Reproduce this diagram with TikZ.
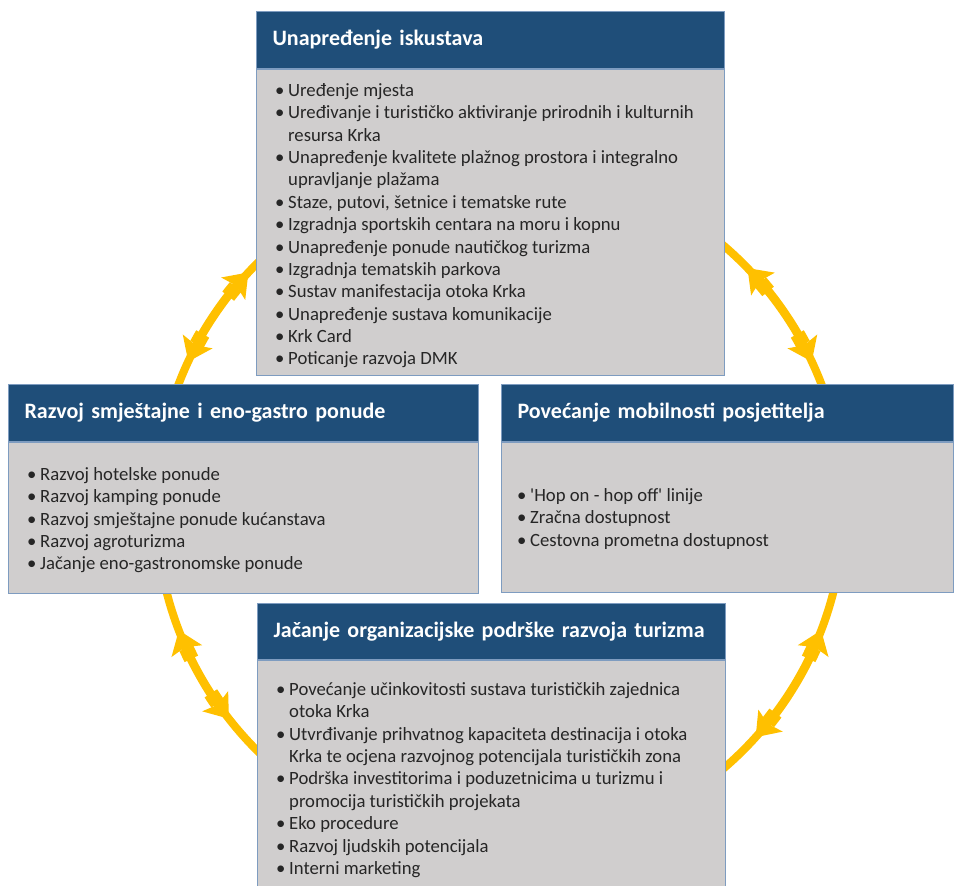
\documentclass[tikz,border=0pt]{standalone}
\usepackage{fontspec}
\setmainfont{Carlito}
\usetikzlibrary{arrows.meta,positioning,calc}

\definecolor{headblue}{HTML}{1F4E79}
\definecolor{bodygray}{HTML}{D0CECE}
\definecolor{edgeblue}{HTML}{7E9CC0}
\definecolor{ringgold}{HTML}{FFC000}

\newcommand{\listfont}{\fontsize{18.7}{22.4}\selectfont}
\newcommand{\headfont}{\fontsize{22}{26}\selectfont\bfseries}

\begin{document}
\begin{tikzpicture}[x=1pt,y=-1pt,
    headbox/.style={draw=edgeblue, line width=1.2pt, fill=headblue, text=white,
        font=\headfont, anchor=north west, inner xsep=16pt, inner ysep=0pt,
        align=left, minimum height=57pt},
    bodybox/.style={draw=edgeblue, line width=1.2pt, fill=bodygray, anchor=north west},
    itemlist/.style={anchor=base west, inner sep=0pt, font=\listfont, text=black!85},
    ring/.style={draw=ringgold, line width=8pt},
    ringcollar/.style={draw=ringgold, line width=15pt},
    ringarrow/.style={ring, {Stealth[length=22pt,width=32pt,inset=4pt]}-{Stealth[length=22pt,width=32pt,inset=4pt]}}]
    \useasboundingbox (0,0) rectangle (954,886);
    \coordinate (ring) at (500,507);
    \draw[ring] (ring) circle[radius=344pt];

    % top
    \node[headbox, text width=436pt] (topH) at (256,11) {Unapređenje iskustava};
    \node[bodybox, minimum width=468pt, minimum height=306pt] (topB) at (topH.south west) {};
    \node[itemlist] (topL) at ($(topB.north west)+(19,27)$) {%
        \begin{tabular}[t]{@{}p{13pt}@{}l@{}}
        \textbullet & Uređenje mjesta\\
        \textbullet & Uređivanje i turističko aktiviranje prirodnih i kulturnih\\
                    & resursa Krka\\
        \textbullet & Unapređenje kvalitete plažnog prostora i integralno\\
                    & upravljanje plažama\\
        \textbullet & Staze, putovi, šetnice i tematske rute\\
        \textbullet & Izgradnja sportskih centara na moru i kopnu\\
        \textbullet & Unapređenje ponude nautičkog turizma\\
        \textbullet & Izgradnja tematskih parkova\\
        \textbullet & Sustav manifestacija otoka Krka\\
        \textbullet & Unapređenje sustava komunikacije\\
        \textbullet & Krk Card\\
        \textbullet & Poticanje razvoja DMK
        \end{tabular}};

    % left
    \node[headbox, text width=438pt] (leftH) at (8,384) {Razvoj smještajne i eno-gastro ponude};
    \node[bodybox, minimum width=470pt, minimum height=151pt] (leftB) at (leftH.south west) {};
    \node[itemlist] (leftL) at ($(leftB.north west)+(19,38)$) {%
        \begin{tabular}[t]{@{}p{13pt}@{}l@{}}
        \textbullet & Razvoj hotelske ponude\\
        \textbullet & Razvoj kamping ponude\\
        \textbullet & Razvoj smještajne ponude kućanstava\\
        \textbullet & Razvoj agroturizma\\
        \textbullet & Jačanje eno-gastronomske ponude
        \end{tabular}};

    % right
    \node[headbox, text width=420pt] (rightH) at (501,384) {Povećanje mobilnosti posjetitelja};
    \node[bodybox, minimum width=452pt, minimum height=150pt] (rightB) at (rightH.south west) {};
    \node[itemlist] (rightL) at ($(rightB.north west)+(16,59)$) {%
        \begin{tabular}[t]{@{}p{13pt}@{}l@{}}
        \textbullet & \textquotesingle Hop on - hop off\textquotesingle{} linije\\
        \textbullet & Zračna dostupnost\\
        \textbullet & Cestovna prometna dostupnost
        \end{tabular}};

    % bottom
    \node[headbox, text width=436pt, minimum height=56pt] (botH) at (257,603) {Jačanje organizacijske podrške razvoja turizma};
    \node[bodybox, minimum width=468pt, minimum height=240pt] (botB) at (botH.south west) {};
    \node[itemlist] (botL) at ($(botB.north west)+(19,35)$) {%
        \begin{tabular}[t]{@{}p{13pt}@{}l@{}}
        \textbullet & Povećanje učinkovitosti sustava turističkih zajednica\\
                    & otoka Krka\\
        \textbullet & Utvrđivanje prihvatnog kapaciteta destinacija i otoka\\
                    & Krka te ocjena razvojnog potencijala turističkih zona\\
        \textbullet & Podrška investitorima i poduzetnicima u turizmu i\\
                    & promocija turističkih projekata\\
        \textbullet & Eko procedure\\
        \textbullet & Razvoj ljudskih potencijala\\
        \textbullet & Interni marketing
        \end{tabular}};

    % ring arrows between the boxes
    \foreach \a/\b in {44/25, 137/155, 201/218, 318/339}{
        \pgfmathsetmacro{\s}{sign(\b-\a)}
        \draw[ringcollar] ($(ring)+({\a+\s*3.2}:344pt)$) arc[start angle={\a+\s*3.2}, end angle={\a+\s*5.2}, radius=344pt];
        \draw[ringcollar] ($(ring)+({\b-\s*3.2}:344pt)$) arc[start angle={\b-\s*3.2}, end angle={\b-\s*5.2}, radius=344pt];
        \draw[ringarrow] ($(ring)+(\a:344pt)$) arc[start angle=\a, end angle=\b, radius=344pt];
    }
\end{tikzpicture}
\end{document}
